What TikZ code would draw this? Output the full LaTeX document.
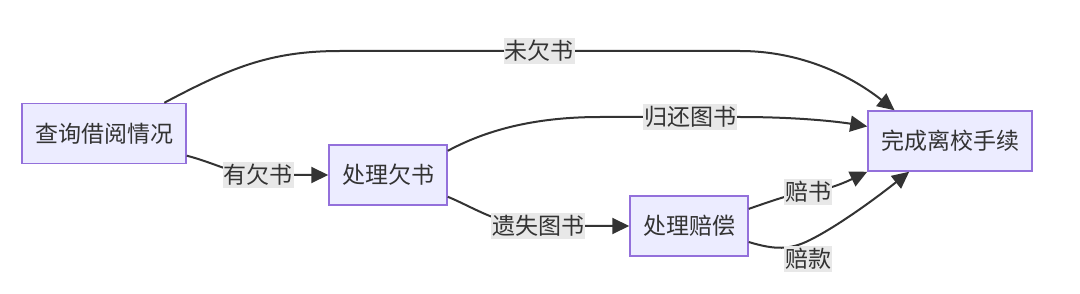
\documentclass[tikz,border=0pt]{standalone}
\usepackage{fontspec}
\newfontfamily\cjk{Noto Sans CJK SC}
\usetikzlibrary{arrows.meta}
\definecolor{boxfill}{HTML}{ECECFF}
\definecolor{boxline}{HTML}{9370DB}
\definecolor{ink}{HTML}{333333}
\definecolor{tagfill}{HTML}{E8E8E8}

\begin{document}
\begin{tikzpicture}[x=1pt,y=-1pt,
  font=\cjk\fontsize{23}{28}\selectfont, text=ink,
  box/.style={draw=boxline,fill=boxfill,line width=1.5pt,minimum height=60pt,inner xsep=13pt},
  tag/.style={fill=tagfill,inner xsep=1pt,inner ysep=2pt},
  edge/.style={draw=ink,line width=2pt,-{Triangle[length=17pt,width=16pt]}}]
  \useasboundingbox (0,0) rectangle (1080,294);
  % ---------------- steps ----------------
  \node[box] (chk)  at (104,133.5) {查询借阅情况};
  \node[box] (owe)  at (388,175)   {处理欠书};
  \node[box] (pay)  at (689,226)   {处理赔偿};
  \node[box] (done) at (950,141)   {完成离校手续};
  % ---------------- label spots ----------------
  \coordinate (tNone) at (539,51);
  \coordinate (tBack) at (690,117);
  \coordinate (tOwe)  at (258,175);
  \coordinate (tLost) at (538,226);
  \coordinate (tBook) at (808,192);
  \coordinate (tCash) at (808,259);
  % ---------------- flows ----------------
  \draw[edge] (chk.27) .. controls (230,68) and (270,51) .. (340,51) -- (tNone)
    -- (740,51) .. controls (800,51) and (850,75) .. (done.151);
  \draw[edge] (owe.22) .. controls (490,128) and (540,117) .. (600,117) -- (tBack)
    -- (740,117) .. controls (800,117) and (840,122) .. (done.170);
  \draw[edge] (chk.-15) .. controls (215,163) and (235,175) .. (tOwe) -- (owe.west);
  \draw[edge] (owe.-20) .. controls (475,208) and (500,226) .. (tLost) -- (pay.west);
  \draw[edge] (pay.16) .. controls (780,198) and (795,193) .. (tBook)
    .. controls (830,190) and (850,180) .. (done.south west);
  \draw[edge] (pay.-15) .. controls (775,250) and (790,250) .. (810,240)
    .. controls (840,225) and (880,195) .. (done.217);
  % ---------------- labels ----------------
  \node[tag] (lNone) at (tNone) {未欠书};
  \node[tag] (lBack) at (tBack) {归还图书};
  \node[tag] (lOwe)  at (tOwe)  {有欠书};
  \node[tag] (lLost) at (tLost) {遗失图书};
  \node[tag] (lBook) at (tBook) {赔书};
  \node[tag] (lCash) at (tCash) {赔款};
\end{tikzpicture}
\end{document}
